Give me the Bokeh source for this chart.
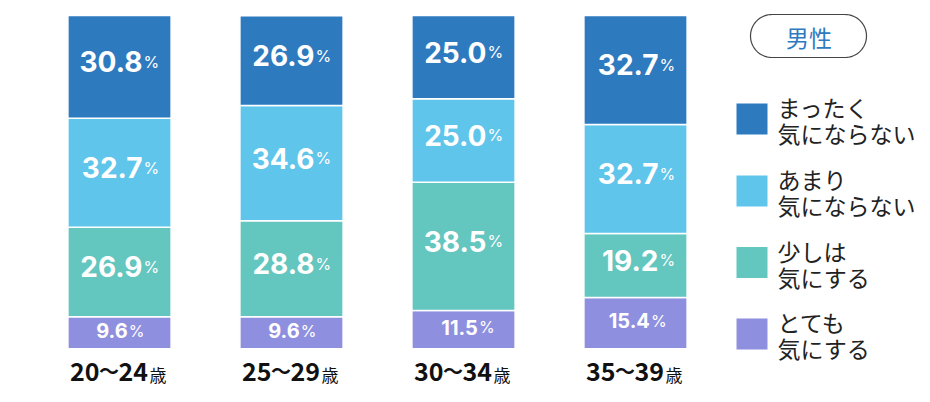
from bokeh.plotting import figure
from bokeh.models import ColumnDataSource, Range1d
from bokeh.core.properties import value
from bokeh.embed import file_html
from bokeh.resources import INLINE
import numpy as np

# ---------------- data ----------------
categories = ["20～24", "25～29", "30～34", "35～39"]
age_suffix = "歳"
panel_title = "男性"
legend_line1 = ["まったく", "あまり", "少しは", "とても"]
legend_line2 = ["気にならない", "気にならない", "気にする", "気にする"]
mattaku = [30.8, 26.9, 25.0, 32.7]   # まったく気にならない
amari = [32.7, 34.6, 25.0, 32.7]     # あまり気にならない
sukoshi = [26.9, 28.8, 38.5, 19.2]   # 少しは気にする
totemo = [9.6, 9.6, 11.5, 15.4]      # とても気にする

# ---------------- style ----------------
C_DARK = "#2e7abf"
C_LIGHT = "#60c5ea"
C_TEAL = "#63c6bf"
C_PURPLE = "#8f8fe0"
series_colors = [C_DARK, C_LIGHT, C_TEAL, C_PURPLE]  # legend order (top to bottom)

W, H = 922, 394
PX_PER_X = 172.0
X_ORIGIN = 119.0          # page x of first bar centre
PX_PER_Y = 333.3 / 100.0
Y_ORIGIN = 348.3          # page y of 0 %
BASE_FIX = 0.36           # empirical baseline correction (in em)


def dx(px):
    return (px - X_ORIGIN) / PX_PER_X


def dy(py):
    return (Y_ORIGIN - py) / PX_PER_Y


p = figure(width=W, height=H, output_backend="svg", toolbar_location=None,
           x_range=Range1d(dx(0), dx(W)), y_range=Range1d(dy(H), dy(0)),
           min_border=0, min_border_left=0, min_border_right=0,
           min_border_top=0, min_border_bottom=0)
p.axis.visible = False
p.grid.visible = False
p.outline_line_color = None
p.background_fill_color = "white"
p.border_fill_color = "white"

xs = list(range(len(categories)))
src = ColumnDataSource(dict(x=xs, cat=categories, mattaku=mattaku, amari=amari,
                            sukoshi=sukoshi, totemo=totemo))
stack_keys = ["totemo", "sukoshi", "amari", "mattaku"]
stack_cols = [C_PURPLE, C_TEAL, C_LIGHT, C_DARK]
p.vbar_stack(stack_keys, x="x", width=0.6, fill_color=stack_cols,
             line_color="white", line_width=1.5, source=src)

# ---------------- value labels ----------------
series_vals = {"totemo": totemo, "sukoshi": sukoshi, "amari": amari, "mattaku": mattaku}
num_x, num_y, num_t, num_fs = [], [], [], []
pct_x, pct_y = [], []
for i, c in enumerate(categories):
    bottom = 0.0
    for k in stack_keys:
        v = series_vals[k][i]
        mid = bottom + v / 2
        bottom += v
        txt = f"{v:.1f}"
        small = (k == "totemo")
        fs = 20 if small else 28
        ndig = len(txt) - 1
        w_num = fs * (0.62 * ndig + 0.28)
        total = w_num + 1 + 13
        off = -total / 2 + w_num
        base_px = 5 - BASE_FIX * fs
        yb = mid - base_px / PX_PER_Y
        num_x.append(i + off / PX_PER_X)
        num_y.append(yb)
        num_t.append(txt)
        num_fs.append(f"{fs}px")
        pct_x.append(i + (off + 1) / PX_PER_X)
        pct_y.append(yb)

lab_src = ColumnDataSource(dict(x=num_x, y=num_y, t=num_t, fs=num_fs))
p.text(x="x", y="y", text="t", source=lab_src, text_color="white",
       text_font=value("Inter"), text_font_style="bold", text_font_size="fs",
       text_align="right", text_baseline="alphabetic")
p.text(x=pct_x, y=pct_y, text=["%"] * len(pct_x), text_color="white",
       text_font=value("Inter"), text_font_size="16px",
       text_align="left", text_baseline="alphabetic")

# ---------------- category labels ----------------
cat_font = value("Noto Sans CJK JP")
CAT_FS = 25
cat_base = dy(380 - BASE_FIX * CAT_FS)
left_part = [c.split("～")[0] for c in categories]
right_part = [c.split("～")[1] for c in categories]
p.text(x=[i - 20 / PX_PER_X for i in xs], y=[cat_base] * len(xs), text=left_part,
       text_color="#111111", text_font=cat_font, text_font_style="bold",
       text_font_size=f"{CAT_FS}px", text_align="right", text_baseline="alphabetic")
p.text(x=[i - 10.5 / PX_PER_X for i in xs], y=[dy(369.5)] * len(xs), text=["～"] * len(xs),
       text_color="#111111", text_font=cat_font, text_font_style="bold",
       text_font_size="20px", text_align="center", text_baseline="middle")
p.text(x=[i - 1 / PX_PER_X for i in xs], y=[cat_base] * len(xs), text=right_part,
       text_color="#111111", text_font=cat_font, text_font_style="bold",
       text_font_size=f"{CAT_FS}px", text_align="left", text_baseline="alphabetic")
p.text(x=[i + 30 / PX_PER_X for i in xs], y=[dy(380.5 - BASE_FIX * 17)] * len(xs),
       text=[age_suffix] * len(xs),
       text_color="#111111", text_font=cat_font, text_font_size="17px",
       text_align="left", text_baseline="alphabetic")

# ---------------- pill title ----------------
cx_l, cx_r, cyp, r = 771.5, 844.5, 35.5, 21.5
th_r = np.linspace(-np.pi / 2, np.pi / 2, 40)
th_l = np.linspace(np.pi / 2, 3 * np.pi / 2, 40)
pxs = np.concatenate([cx_r + r * np.cos(th_r), cx_l + r * np.cos(th_l)])
pys = np.concatenate([cyp - r * np.sin(th_r), cyp - r * np.sin(th_l)])
p.patch([dx(v) for v in pxs], [dy(v) for v in pys], fill_color="white",
        line_color="#444444", line_width=1.2)
p.text(x=[dx(808.5)], y=[dy(36)], text=[panel_title], text_color=C_DARK,
       text_font=value("Noto Sans CJK JP"), text_font_size="23px",
       text_align="center", text_baseline="middle")

# ---------------- legend ----------------
sq_centers = [118.5, 190.5, 262.0, 333.5]
p.rect(x=[dx(751.5)] * 4, y=[dy(v) for v in sq_centers],
       width=31 / PX_PER_X, height=31 / PX_PER_Y,
       fill_color=series_colors, line_color=None)
p.text(x=[dx(777)] * 4, y=[dy(v - 12) for v in sq_centers], text=legend_line1,
       text_color="#222222", text_font=value("Noto Sans CJK JP"), text_font_size="23px",
       text_align="left", text_baseline="middle")
p.text(x=[dx(777)] * 4, y=[dy(v + 14) for v in sq_centers], text=legend_line2,
       text_color="#222222", text_font=value("Noto Sans CJK JP"), text_font_size="23px",
       text_align="left", text_baseline="middle")

open("out.html", "w").write(file_html(p, INLINE))
